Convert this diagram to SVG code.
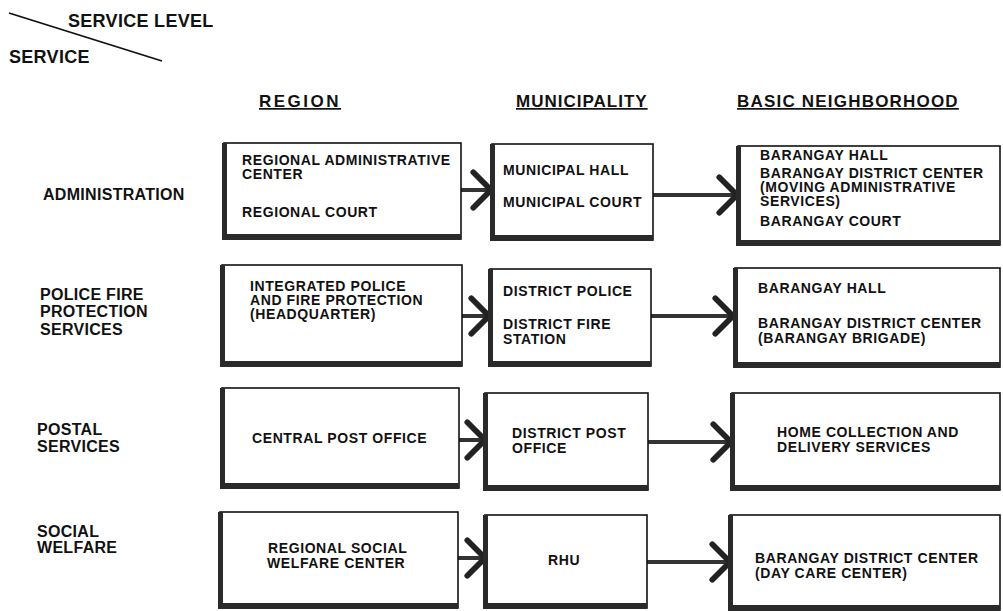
<svg xmlns="http://www.w3.org/2000/svg" width="1003" height="611" viewBox="0 0 1003 611">
  <style>
    text { font-family: "Liberation Sans", Arial, sans-serif; font-weight: bold; fill: #111; }
    .hd { font-size: 18px; letter-spacing: 0.3px; }
    .col { font-size: 17px; text-decoration: underline; letter-spacing: 1px; }
    .lbl { font-size: 16px; letter-spacing: 0.3px; }
    .bx { font-size: 14px; letter-spacing: 0.6px; }
    .frame { fill: #fff; stroke: #111; stroke-width: 1.6; }
    .heavy { fill: #2a2a2a; }
    .conn { stroke: #333; stroke-width: 4; fill: none; }
  </style>
  <defs>
    <marker id="chev" markerUnits="userSpaceOnUse" markerWidth="40" markerHeight="50" viewBox="-24 -24 30 48" refX="0" refY="0" orient="auto">
      <path d="M -17 -17 L 0 0 L -17 17" fill="none" stroke="#222" stroke-width="5.5" stroke-linecap="round" stroke-linejoin="round"/>
    </marker>
  </defs>
  <rect width="1003" height="611" fill="#fff"/>

  <!-- corner header -->
  <g id="corner-header">
    <line x1="9" y1="13" x2="162" y2="61" stroke="#111" stroke-width="1.8"/>
    <text class="hd" x="68" y="27">SERVICE LEVEL</text>
    <text class="hd" x="9" y="63">SERVICE</text>
  </g>

  <!-- column headings -->
  <g id="col-region"><text class="col" x="259" y="107" style="letter-spacing:2.5px">REGION</text></g>
  <g id="col-municipality"><text class="col" x="516" y="107">MUNICIPALITY</text></g>
  <g id="col-basic"><text class="col" x="737" y="107" style="letter-spacing:1.2px">BASIC NEIGHBORHOOD</text></g>

  <!-- row labels -->
  <g id="lbl-admin"><text class="lbl" x="43" y="200">ADMINISTRATION</text></g>
  <g id="lbl-police">
    <text class="lbl" x="40" y="300">POLICE FIRE</text>
    <text class="lbl" x="40" y="317">PROTECTION</text>
    <text class="lbl" x="40" y="335">SERVICES</text>
  </g>
  <g id="lbl-postal">
    <text class="lbl" x="37" y="435">POSTAL</text>
    <text class="lbl" x="37" y="452">SERVICES</text>
  </g>
  <g id="lbl-social">
    <text class="lbl" x="37" y="537">SOCIAL</text>
    <text class="lbl" x="37" y="553">WELFARE</text>
  </g>

  <!-- connectors -->
  <g id="connectors">
    <line class="conn" x1="461" y1="190" x2="491" y2="190" marker-end="url(#chev)"/>
    <line class="conn" x1="653" y1="195" x2="737" y2="195" marker-end="url(#chev)"/>
    <line class="conn" x1="462" y1="316" x2="489" y2="316" marker-end="url(#chev)"/>
    <line class="conn" x1="651" y1="316" x2="733" y2="316" marker-end="url(#chev)"/>
    <line class="conn" x1="459" y1="440" x2="485" y2="440" marker-end="url(#chev)"/>
    <line class="conn" x1="648" y1="442" x2="731" y2="442" marker-end="url(#chev)"/>
    <line class="conn" x1="458" y1="558" x2="485" y2="558" marker-end="url(#chev)"/>
    <line class="conn" x1="647" y1="562" x2="730" y2="562" marker-end="url(#chev)"/>
  </g>

  <!-- Row 1: administration -->
  <g id="admin-region">
    <rect class="frame" x="224" y="143" width="237" height="96"/>
    <rect class="heavy" x="222" y="143" width="5" height="96"/>
    <rect class="heavy" x="222" y="234" width="239" height="6"/>
    <text class="bx" x="242" y="165">REGIONAL ADMINISTRATIVE</text>
    <text class="bx" x="242" y="179">CENTER</text>
    <text class="bx" x="242" y="217">REGIONAL COURT</text>
  </g>
  <g id="admin-municipality">
    <rect class="frame" x="492" y="144" width="161" height="96"/>
    <rect class="heavy" x="490" y="144" width="5" height="96"/>
    <rect class="heavy" x="490" y="235" width="163" height="6"/>
    <text class="bx" x="503" y="175">MUNICIPAL HALL</text>
    <text class="bx" x="503" y="207">MUNICIPAL COURT</text>
  </g>
  <g id="admin-basic">
    <rect class="frame" x="738" y="146" width="262" height="99"/>
    <rect class="heavy" x="736" y="146" width="5" height="99"/>
    <rect class="heavy" x="736" y="240" width="264" height="6"/>
    <text class="bx" x="760" y="160">BARANGAY HALL</text>
    <text class="bx" x="760" y="178">BARANGAY DISTRICT CENTER</text>
    <text class="bx" x="760" y="192">(MOVING ADMINISTRATIVE</text>
    <text class="bx" x="760" y="206">SERVICES)</text>
    <text class="bx" x="760" y="226">BARANGAY COURT</text>
  </g>

  <!-- Row 2: police / fire -->
  <g id="police-region">
    <rect class="frame" x="222" y="265" width="240" height="101"/>
    <rect class="heavy" x="220" y="265" width="5" height="101"/>
    <rect class="heavy" x="220" y="361" width="242" height="6"/>
    <text class="bx" x="250" y="291">INTEGRATED POLICE</text>
    <text class="bx" x="250" y="305">AND FIRE PROTECTION</text>
    <text class="bx" x="250" y="319">(HEADQUARTER)</text>
  </g>
  <g id="police-municipality">
    <rect class="frame" x="490" y="269" width="161" height="97"/>
    <rect class="heavy" x="488" y="269" width="5" height="97"/>
    <rect class="heavy" x="488" y="361" width="163" height="6"/>
    <text class="bx" x="503" y="296">DISTRICT POLICE</text>
    <text class="bx" x="503" y="329">DISTRICT FIRE</text>
    <text class="bx" x="503" y="344">STATION</text>
  </g>
  <g id="police-basic">
    <rect class="frame" x="735" y="268" width="265" height="99"/>
    <rect class="heavy" x="733" y="268" width="5" height="99"/>
    <rect class="heavy" x="733" y="362" width="267" height="6"/>
    <text class="bx" x="758" y="293">BARANGAY HALL</text>
    <text class="bx" x="758" y="328">BARANGAY DISTRICT CENTER</text>
    <text class="bx" x="758" y="343">(BARANGAY BRIGADE)</text>
  </g>

  <!-- Row 3: postal -->
  <g id="postal-region">
    <rect class="frame" x="222" y="388" width="237" height="100"/>
    <rect class="heavy" x="220" y="388" width="5" height="100"/>
    <rect class="heavy" x="220" y="483" width="239" height="6"/>
    <text class="bx" x="252" y="443">CENTRAL POST OFFICE</text>
  </g>
  <g id="postal-municipality">
    <rect class="frame" x="485" y="393" width="163" height="97"/>
    <rect class="heavy" x="483" y="393" width="5" height="97"/>
    <rect class="heavy" x="483" y="485" width="165" height="6"/>
    <text class="bx" x="512" y="438">DISTRICT POST</text>
    <text class="bx" x="512" y="453">OFFICE</text>
  </g>
  <g id="postal-basic">
    <rect class="frame" x="732" y="393" width="268" height="97"/>
    <rect class="heavy" x="730" y="393" width="5" height="97"/>
    <rect class="heavy" x="730" y="485" width="270" height="6"/>
    <text class="bx" x="777" y="437">HOME COLLECTION AND</text>
    <text class="bx" x="777" y="452">DELIVERY SERVICES</text>
  </g>

  <!-- Row 4: social welfare -->
  <g id="social-region">
    <rect class="frame" x="220" y="512" width="238" height="96"/>
    <rect class="heavy" x="218" y="512" width="5" height="96"/>
    <rect class="heavy" x="218" y="603" width="240" height="6"/>
    <text class="bx" x="268" y="553">REGIONAL SOCIAL</text>
    <text class="bx" x="267" y="568">WELFARE CENTER</text>
  </g>
  <g id="social-municipality">
    <rect class="frame" x="485" y="515" width="162" height="93"/>
    <rect class="heavy" x="483" y="515" width="5" height="93"/>
    <rect class="heavy" x="483" y="603" width="164" height="6"/>
    <text class="bx" x="548" y="565">RHU</text>
  </g>
  <g id="social-basic">
    <rect class="frame" x="730" y="515" width="270" height="95"/>
    <rect class="heavy" x="728" y="515" width="5" height="95"/>
    <rect class="heavy" x="728" y="605" width="272" height="6"/>
    <text class="bx" x="755" y="563">BARANGAY DISTRICT CENTER</text>
    <text class="bx" x="755" y="578">(DAY CARE CENTER)</text>
  </g>
</svg>
